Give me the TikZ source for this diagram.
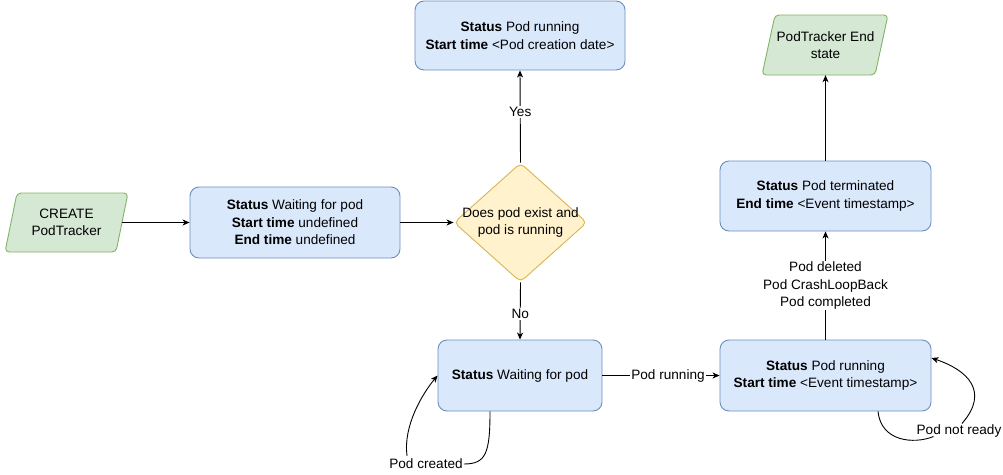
\documentclass[tikz,border=0pt]{standalone}
\usepackage{fontspec}
\setmainfont{Liberation Sans}
\usetikzlibrary{shapes.geometric,arrows.meta,calc}
\definecolor{bfill}{HTML}{DAE8FC}
\definecolor{bdraw}{HTML}{6C8EBF}
\definecolor{gfill}{HTML}{D5E8D4}
\definecolor{gdraw}{HTML}{82B366}
\definecolor{yfill}{HTML}{FFF2CC}
\definecolor{ydraw}{HTML}{D6B656}
\begin{document}
\begin{tikzpicture}[x=1pt,y=-1pt,
  every node/.style={font=\fontsize{13.6}{17.5}\selectfont},
  box/.style={draw=bdraw, fill=bfill, rounded corners=9pt, align=center, line width=0.9pt, inner sep=0pt},
  para/.style={draw=gdraw, fill=gfill, rounded corners=4pt, line width=0.9pt},
  txt/.style={align=center, inner sep=0pt},
  edge/.style={draw=black, line width=0.9pt, -{Stealth[length=7pt,width=6pt,inset=2pt]}},
  loopline/.style={draw=black, line width=0.9pt},
  lbl/.style={fill=white, inner sep=1pt, align=center}]
\useasboundingbox (0,0) rectangle (1003,474);

% start parallelogram
\draw[para] (5,252) -- (17,193) -- (128,193) -- (116,252) -- cycle;
\node[txt, minimum width=111pt, minimum height=59pt] (c) at (66.5,222.5) {CREATE\\PodTracker};

% end parallelogram
\draw[para] (762,75) -- (775,15) -- (888,15) -- (875,75) -- cycle;
\node[txt, minimum width=113pt, minimum height=60pt] (e) at (825.5,45) {PodTracker End\\state};

% boxes
\node[box, minimum width=210pt, minimum height=71pt] (b1) at (295,222.5)
  {\textbf{Status} Waiting for pod\\\textbf{Start time} undefined\\\textbf{End time} undefined};
\node[box, minimum width=210pt, minimum height=69pt] (top) at (520,35.5)
  {\textbf{Status} Pod running\\\textbf{Start time} <Pod creation date>};
\node[box, minimum width=164pt, minimum height=71pt] (b3) at (520,375.5)
  {\textbf{Status} Waiting for pod};
\node[box, minimum width=211pt, minimum height=71pt] (b4) at (825.5,375.5)
  {\textbf{Status} Pod running\\\textbf{Start time} <Event timestamp>};
\node[box, minimum width=211pt, minimum height=70pt] (b5) at (825.5,196)
  {\textbf{Status} Pod terminated\\\textbf{End time} <Event timestamp>};

% decision
\node[diamond, draw=ydraw, fill=yfill, line width=0.9pt, minimum width=133pt, minimum height=119pt,
  inner sep=0pt, rounded corners=5pt,
  label={[align=center]center:Does pod exist and\\pod is running}] (d) at (520.5,222.5) {};

% edges
\draw[edge] (c.east) -- (b1.west);
\draw[edge] (b1.east) -- (d.west);
\draw[edge] (d.north) -- node[lbl,pos=0.55]{Yes} (top.south);
\draw[edge] (d.south) -- node[lbl,pos=0.55]{No} (b3.north);
\draw[edge] (b3.east) -- node[lbl,pos=0.56]{Pod running} (b4.west);
\draw[edge] (b4.north) -- node[lbl]{Pod deleted\\Pod CrashLoopBack\\Pod completed} (b5.south);
\draw[edge] (b5.north) -- (e.south);

% loop labels
\node[lbl] (pc) at (426,464) {Pod created};
\node[lbl] (pn) at (959,431) {Pod not ready};

% loop on b3
\draw[loopline] ([xshift=-30pt]b3.south) .. controls +(0,42) and +(22,0) .. (pc.east);
\draw[edge] ([xshift=-19pt,yshift=2pt]pc.north) .. controls +(-4,-30) and +(-15,18) .. (b3.west);

% loop on b4
\draw[loopline] ([xshift=52.5pt]b4.south) .. controls +(3,30) and +(-20,8) .. ([xshift=18pt,yshift=2pt]pn.south west);
\draw[edge] ([xshift=3pt]pn.north) .. controls +(28,-32) and +(36,12) .. ([yshift=17.5pt]b4.east);
\end{tikzpicture}
\end{document}
